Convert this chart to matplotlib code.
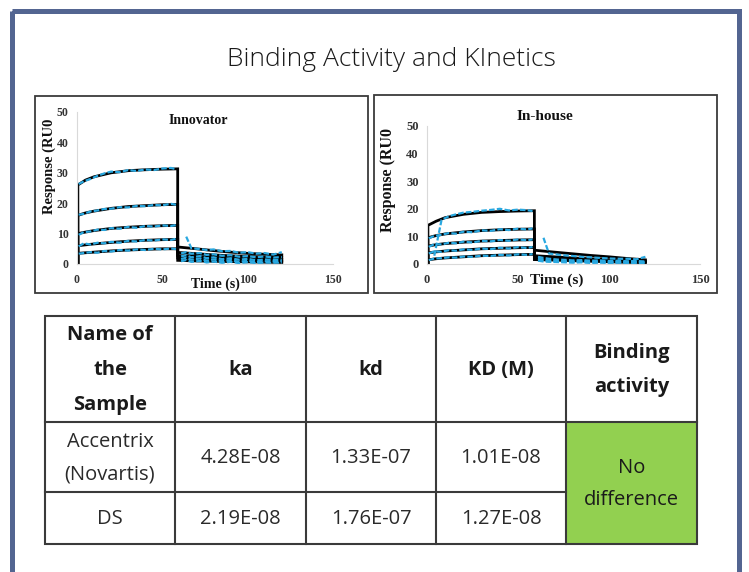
import numpy as np
import matplotlib
matplotlib.use("Agg")
import matplotlib.pyplot as plt
from matplotlib.patches import Rectangle

nan = np.nan

# ---- sensorgram data ----
T_FIT = [0.5, 0.5, 5, 10, 20, 30, 40, 50, 59, 59, 70, 80, 90, 100, 110, 120]
T_ASSOC = [1, 4, 8, 12, 16, 20, 25, 30, 35, 40, 45, 50, 55, 58]
T_DISSOC = [61, 64, 67, 72, 76, 80, 85, 90, 95, 100, 105, 110, 115, 120]

innov_fit = [
    [0, 26, 27.6, 28.7, 30.0, 30.7, 31.0, 31.2, 31.3, 5.6, 5.0, 4.4, 3.9, 3.5, 3.2, 3.0],
    [0, 16, 16.8, 17.4, 18.3, 18.9, 19.2, 19.5, 19.6, 3.8, 3.4, 3.0, 2.7, 2.5, 2.3, 2.2],
    [0, 10, 10.5, 11.0, 11.7, 12.1, 12.4, 12.6, 12.7, 2.8, 2.5, 2.2, 2.0, 1.8, 1.6, 1.5],
    [0, 6, 6.3, 6.6, 7.1, 7.5, 7.8, 8.0, 8.1, 2.0, 1.8, 1.6, 1.4, 1.2, 1.1, 1.0],
    [0, 3.5, 3.7, 3.9, 4.3, 4.6, 4.8, 5.0, 5.0, 1.2, 1.0, 0.9, 0.8, 0.7, 0.6, 0.5],
]
innov_assoc = [
    [26.3, 27.2, 28.0, 29.0, 29.8, 30.4, 30.2, 30.9, 30.6, 31.1, 30.9, 31.4, 31.6, 31.2],
    [16.2, 16.5, 17.3, 17.6, 18.1, 18.2, 18.7, 18.6, 19.1, 19.0, 19.4, 19.3, 19.8, 19.5],
    [9.6, 10.5, 10.7, 11.3, 11.2, 11.8, 11.6, 12.2, 11.9, 12.5, 12.3, 12.7, 12.5, 12.8],
    [5.8, 6.8, 6.4, 7.0, 6.8, 7.3, 7.0, 7.6, 7.4, 7.9, 7.7, 8.1, 7.9, 8.3],
    [3.4, 3.6, 3.9, 3.7, 4.3, 4.1, 4.6, 4.4, 4.8, 4.6, 5.0, 4.8, 5.1, 4.9],
]
innov_dissoc = [
    [nan, 9.0, 5.2, 4.9, 4.6, 4.8, 4.2, 4.3, 3.7, 3.9, 3.4, 3.6, 3.1, 3.9],
    [3.5, 3.9, 3.4, 3.6, 3.0, 3.2, 2.7, 2.9, 2.4, 2.6, 2.2, 2.5, 2.1, 2.3],
    [2.5, 2.9, 2.2, 2.6, 1.9, 2.2, 1.6, 1.9, 1.4, 1.7, 1.2, 1.5, 1.3, 1.4],
    [1.6, 2.1, 1.4, 1.8, 1.1, 1.5, 0.9, 1.3, 0.7, 1.1, 0.6, 0.9, 0.8, 0.9],
    [0.9, 1.3, 0.7, 1.0, 0.5, 0.8, 0.4, 0.7, 0.3, 0.6, 0.3, 0.5, 0.4, 0.5],
]

inh_fit = [
    [0, 14, 15.5, 16.8, 18.0, 18.7, 19.0, 19.2, 19.3, 5.0, 4.3, 3.7, 3.1, 2.6, 2.0, 1.5],
    [0, 9.5, 10.3, 10.9, 11.6, 12.1, 12.4, 12.6, 12.7, 3.0, 2.6, 2.2, 1.9, 1.6, 1.3, 1.1],
    [0, 6.5, 7.0, 7.4, 7.9, 8.3, 8.5, 8.7, 8.8, 2.4, 2.1, 1.8, 1.5, 1.3, 1.0, 0.9],
    [0, 4.0, 4.4, 4.7, 5.1, 5.5, 5.7, 5.9, 6.0, 2.0, 1.7, 1.5, 1.3, 1.1, 0.9, 0.7],
    [0, 1.5, 1.9, 2.2, 2.6, 3.0, 3.2, 3.4, 3.5, 1.6, 1.4, 1.2, 1.0, 0.8, 0.6, 0.5],
]
inh_assoc = [
    [nan, 3.0, 16.0, 17.3, 18.0, 18.6, 18.9, 19.3, 19.6, 20.0, 19.4, 19.7, 19.5, 19.2],
    [9.3, 10.2, 10.6, 11.2, 11.0, 11.7, 11.5, 12.2, 12.0, 12.6, 12.3, 12.8, 12.5, 12.9],
    [6.2, 7.2, 7.1, 7.7, 7.5, 8.1, 7.8, 8.4, 8.2, 8.7, 8.4, 8.9, 8.6, 8.9],
    [3.8, 4.6, 4.4, 5.0, 4.8, 5.3, 5.1, 5.6, 5.4, 5.9, 5.6, 6.1, 5.8, 6.2],
    [1.4, 2.0, 2.1, 2.4, 2.3, 2.7, 2.6, 3.0, 2.9, 3.3, 3.1, 3.5, 3.3, 3.6],
]
inh_dissoc = [
    [nan, 9.5, 3.8, 3.4, 3.1, 2.9, 2.6, 2.4, 2.2, 2.0, 1.9, 1.9, 1.7, 2.6],
    [2.6, 2.2, 1.9, 1.6, 1.5, 1.3, 1.4, 1.2, 1.3, 1.1, 1.2, 1.0, 1.1, 0.9],
    [2.0, 1.6, 1.3, 1.1, 1.0, 0.9, 1.0, 0.8, 0.9, 0.7, 0.8, 0.6, 0.7, 0.6],
    [1.7, 1.3, 1.0, 0.9, 0.8, 0.7, 0.8, 0.6, 0.7, 0.5, 0.6, 0.5, 0.6, 0.5],
    [1.2, 0.9, 0.8, 0.7, 0.6, 0.5, 0.6, 0.4, 0.5, 0.4, 0.5, 0.3, 0.4, 0.4],
]

# ---- table data ----
headers = ["Name of\nthe\nSample", "ka", "kd", "KD (M)", "Binding\nactivity"]
samples = ["Accentrix\n(Novartis)", "DS"]
ka = ["4.28E-08", "2.19E-08"]
kd = ["1.33E-07", "1.76E-07"]
KD = ["1.01E-08", "1.27E-08"]
activity = "No\ndifference"

W, H = 749, 572
fig = plt.figure(figsize=(W / 100, H / 100), dpi=100)

# background axes in pixel coordinates
bg = fig.add_axes([0, 0, 1, 1])
bg.set_xlim(0, W)
bg.set_ylim(H, 0)
bg.axis("off")

# outer frame
bg.add_patch(Rectangle((11.5, 10.8), 739 - 11.5, 600, fill=False,
                       ec="#536591", lw=3.6, clip_on=False))
bg.text(391, 59, "Binding Activity and KInetics", ha="center", va="center",
        fontsize=19, family="Open Sans", weight="light", color="#1a1a1a")

# chart boxes
bg.add_patch(Rectangle((34.5, 96), 368 - 34.5, 293 - 96, fill=False, ec="#3a3a3a", lw=1.3))
bg.add_patch(Rectangle((374, 95), 716.5 - 374, 293 - 95, fill=False, ec="#3a3a3a", lw=1.3))

# table
cols = [45, 175, 306, 436, 566, 697]
rows = [316, 422, 492, 544]
line_c = "#3a3a3a"
bg.add_patch(Rectangle((cols[4], rows[1]), cols[5] - cols[4], rows[3] - rows[1],
                       fc="#92d050", ec="none"))
bg.add_patch(Rectangle((cols[0], rows[0]), cols[5] - cols[0], rows[3] - rows[0],
                       fill=False, ec=line_c, lw=1.5))
for x in cols[1:-1]:
    bg.plot([x, x], [rows[0], rows[3]], color=line_c, lw=1.5)
bg.plot([cols[0], cols[5]], [rows[1], rows[1]], color=line_c, lw=1.5)
bg.plot([cols[0], cols[4]], [rows[2], rows[2]], color=line_c, lw=1.5)

tfont = dict(family="Open Sans", ha="center", va="center")
for i, h in enumerate(headers):
    bg.text((cols[i] + cols[i + 1]) / 2, (rows[0] + rows[1]) / 2 + 1, h,
            fontsize=14.5, weight="bold", linespacing=1.98, color="#1a1a1a", **tfont)
for r in range(2):
    yc = (rows[r + 1] + rows[r + 2]) / 2
    for c, val in enumerate([samples[r], ka[r], kd[r], KD[r]]):
        bg.text((cols[c] + cols[c + 1]) / 2, yc + 1, val, fontsize=14.5,
                linespacing=1.85, color="#2a2a2a", **tfont)
bg.text((cols[4] + cols[5]) / 2, (rows[1] + rows[3]) / 2 + 1, activity,
        fontsize=14.5, linespacing=1.85, color="#1a1a1a", **tfont)


def px_axes(x0, x1, y0, y1):
    return fig.add_axes([x0 / W, 1 - y1 / H, (x1 - x0) / W, (y1 - y0) / H])


def sensorgram(ax, fit, assoc, dissoc, title, tsize, lsize, title_xy, xlab_xy, ylab_xy):
    ax.patch.set_alpha(0)
    for y in fit:
        ax.plot(T_FIT, y, color="black", lw=2.0, solid_joinstyle="miter", zorder=2)
    for y in assoc:
        ax.plot(T_ASSOC, y, color="#29a8e0", lw=1.6, ls=(0, (2.5, 1)), zorder=3)
    for y in dissoc:
        ax.plot(T_DISSOC, y, color="#29a8e0", lw=1.6, ls=(0, (2.5, 1)), zorder=3)
    ax.set_xlim(0, 150)
    ax.set_ylim(0, 50)
    ax.set_xticks([0, 50, 100, 150])
    ax.set_yticks([0, 10, 20, 30, 40, 50])
    for s in ["top", "right"]:
        ax.spines[s].set_visible(False)
    for s in ["left", "bottom"]:
        ax.spines[s].set_color("#d9d9d9")
        ax.spines[s].set_linewidth(0.8)
    ax.tick_params(length=0, labelsize=tsize, colors="#333333")
    ax.tick_params(axis="x", pad=7)
    ax.tick_params(axis="y", pad=6)
    for lab in ax.get_xticklabels() + ax.get_yticklabels():
        lab.set_family("Liberation Serif")
        lab.set_weight("bold")
    serif = dict(family="Liberation Serif", weight="bold", color="#111111")
    ax.text(*title_xy, title, transform=ax.transAxes, ha="center", va="center",
            fontsize=lsize, **serif)
    ax.text(*xlab_xy, "Time (s)", transform=ax.transAxes, ha="center", va="center",
            fontsize=lsize, **serif)
    ax.text(*ylab_xy, "Response (RU0", transform=ax.transAxes, ha="center", va="center",
            rotation=90, fontsize=lsize + 0.5, **serif)


ax1 = px_axes(77, 333, 112, 264)
sensorgram(ax1, innov_fit, innov_assoc, innov_dissoc, "Innovator", 8.5, 10,
           ((198 - 77) / 256, (264 - 121) / 152), (0.54, -0.13), (-0.11, 0.64))

ax2 = px_axes(427, 700, 126, 264)
sensorgram(ax2, inh_fit, inh_assoc, inh_dissoc, "In-house", 9, 11,
           ((545 - 427) / 273, (264 - 116) / 138), (0.476, -0.116), (-0.143, 0.61))

fig.savefig("out.png", dpi=100, facecolor="white")
